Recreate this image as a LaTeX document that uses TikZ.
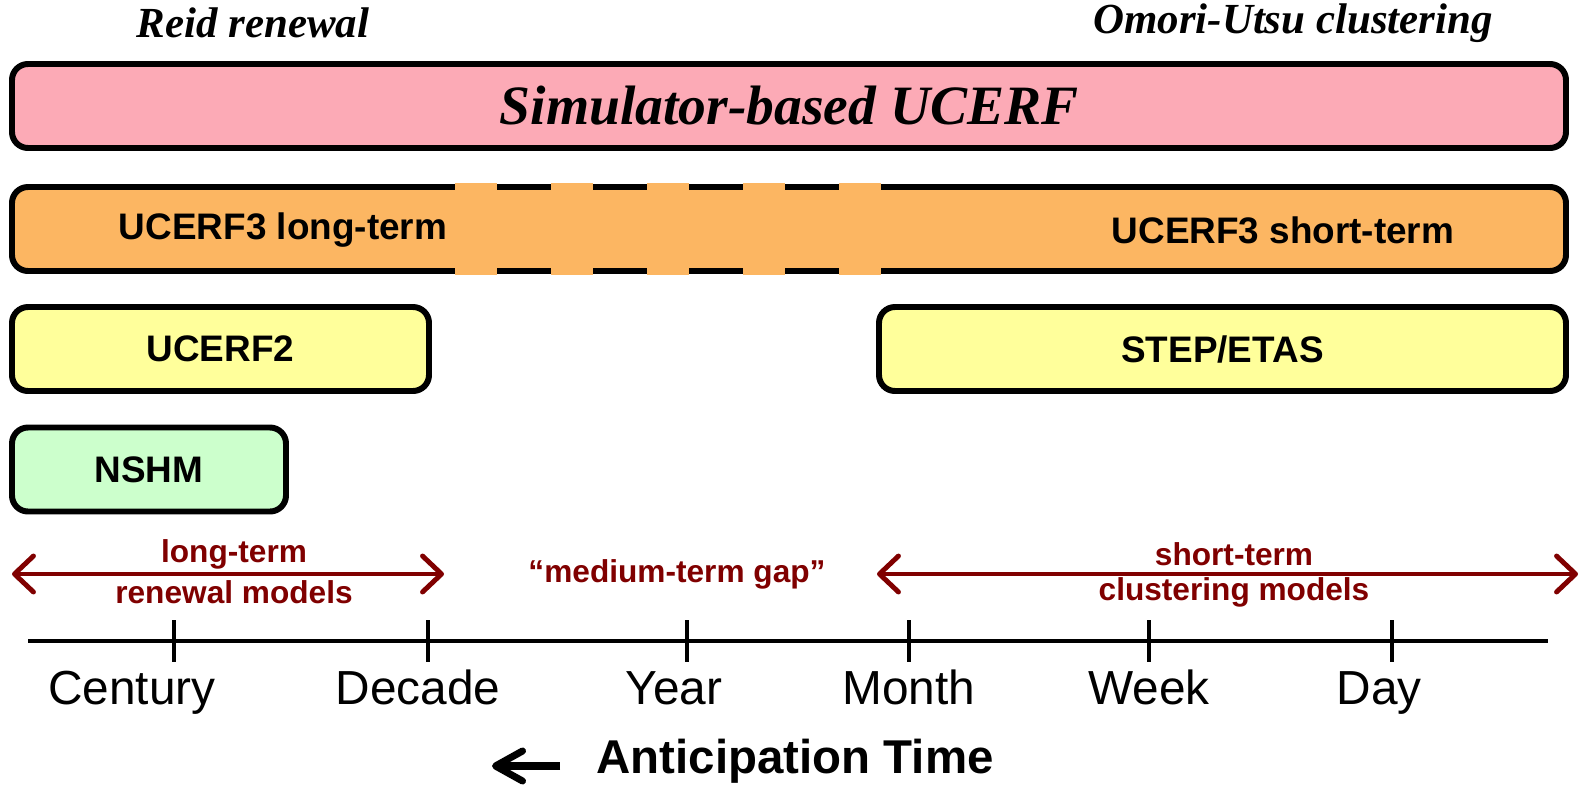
\documentclass[tikz,border=0pt]{standalone}
\usepackage{fontspec}
\setmainfont{Liberation Sans}
\newfontfamily\serifbi{Liberation Serif}
\usetikzlibrary{positioning, arrows.meta, calc}
\definecolor{barpink}{RGB}{252,170,182}
\definecolor{barorange}{RGB}{252,182,98}
\definecolor{baryellow}{RGB}{255,255,155}
\definecolor{bargreen}{RGB}{204,255,204}
\definecolor{darkred}{RGB}{128,0,0}

\begin{document}
\begin{tikzpicture}[>=Stealth, every node/.style={font=\small}, every text node part/.style={align=center},
    bar/.style={draw, line width=1.7pt, rounded corners=0.16cm, minimum height=0.84cm, inner sep=0pt},
    barlabel/.style={font=\fontsize{10.5}{12}\selectfont\bfseries},
    spanlabel/.style={font=\fontsize{9}{10.5}\selectfont\bfseries, text=darkred},
    spanarrow/.style={darkred, line width=1.4pt, {Straight Barb[length=0.19cm, width=0.36cm, round]}-{Straight Barb[length=0.19cm, width=0.36cm, round]}}]
        \useasboundingbox (0,0) rectangle (15.84,-7.85);

        % Top labels
        \node (Reid) at (2.53,-0.23) {\serifbi\fontsize{12.2}{14}\selectfont\bfseries\itshape Reid renewal};
        \node (Omori) at (12.93,-0.23) {\serifbi\fontsize{12.2}{14}\selectfont\bfseries\itshape Omori-Utsu clustering};

        % Bars
        \node (Simulator) [bar, fill=barpink, minimum width=15.54cm] at (7.89,-1.06) {\serifbi\fontsize{15.8}{18}\selectfont\bfseries\itshape Simulator-based UCERF};
        \node (UCERFthree) [bar, fill=barorange, minimum width=15.54cm] at (7.89,-2.29) {};
        \foreach \x in {4.55, 5.51, 6.47, 7.43, 8.39} {
            \fill[barorange] (\x,-1.83) rectangle ++(0.42,-0.92);
        }
        \node (LongTerm) [barlabel] at (2.83,-2.30) {UCERF3 long-term};
        \node (ShortTerm) [barlabel] at (12.83,-2.30) {UCERF3 short-term};
        \node (UCERFtwo) [bar, fill=baryellow, minimum width=4.17cm, barlabel] at (2.205,-3.49) {UCERF2};
        \node (STEP) [bar, fill=baryellow, minimum width=6.87cm, barlabel] at (12.225,-3.49) {STEP/ETAS};
        \node (NSHM) [bar, fill=bargreen, minimum width=2.74cm, barlabel] at (1.49,-4.695) {NSHM};

        % Model spans
        \coordinate (LongL) at (0.12,-5.74);
        \coordinate (LongR) at (4.44,-5.74);
        \coordinate (ShortL) at (8.77,-5.74);
        \coordinate (ShortR) at (15.78,-5.74);
        \draw[spanarrow] (LongL) -- (LongR);
        \draw[spanarrow] (ShortL) -- (ShortR);
        \node (LongA) [spanlabel] at (2.34,-5.54) {long-term};
        \node (LongB) [spanlabel] at (2.34,-5.92) {renewal models};
        \node (Gap) [spanlabel] at (6.77,-5.74) {“medium-term gap”};
        \node (ShortA) [spanlabel] at (12.34,-5.54) {short-term};
        \node (ShortB) [spanlabel] at (12.34,-5.92) {clustering models};

        % Time axis
        \coordinate (AxisL) at (0.28,-6.41);
        \coordinate (AxisR) at (15.48,-6.41);
        \draw[line width=1.1pt] (AxisL) -- (AxisR);
        \foreach \x in {1.74, 4.28, 6.87, 9.09, 11.49, 13.92} {
            \draw[line width=1.1pt] (\x,-6.20) -- (\x,-6.62);
        }
        \foreach \x/\lab in {1.32/Century, 4.18/Decade, 6.74/Year, 9.09/Month, 11.49/Week, 13.79/Day} {
            \node[font=\fontsize{13.6}{15}\selectfont, anchor=base] at (\x,-7.04) {\lab};
        }

        % Anticipation time
        \node (Anticipation) [font=\fontsize{13.5}{15}\selectfont\bfseries] at (7.95,-7.61) {Anticipation Time};
        \coordinate (ArrowTail) at (5.60,-7.66);
        \coordinate (ArrowTip) at (4.92,-7.66);
        \draw[line width=2pt, -{Straight Barb[length=0.27cm, width=0.3cm, round]}] (ArrowTail) -- (ArrowTip);
    \end{tikzpicture}
\end{document}
